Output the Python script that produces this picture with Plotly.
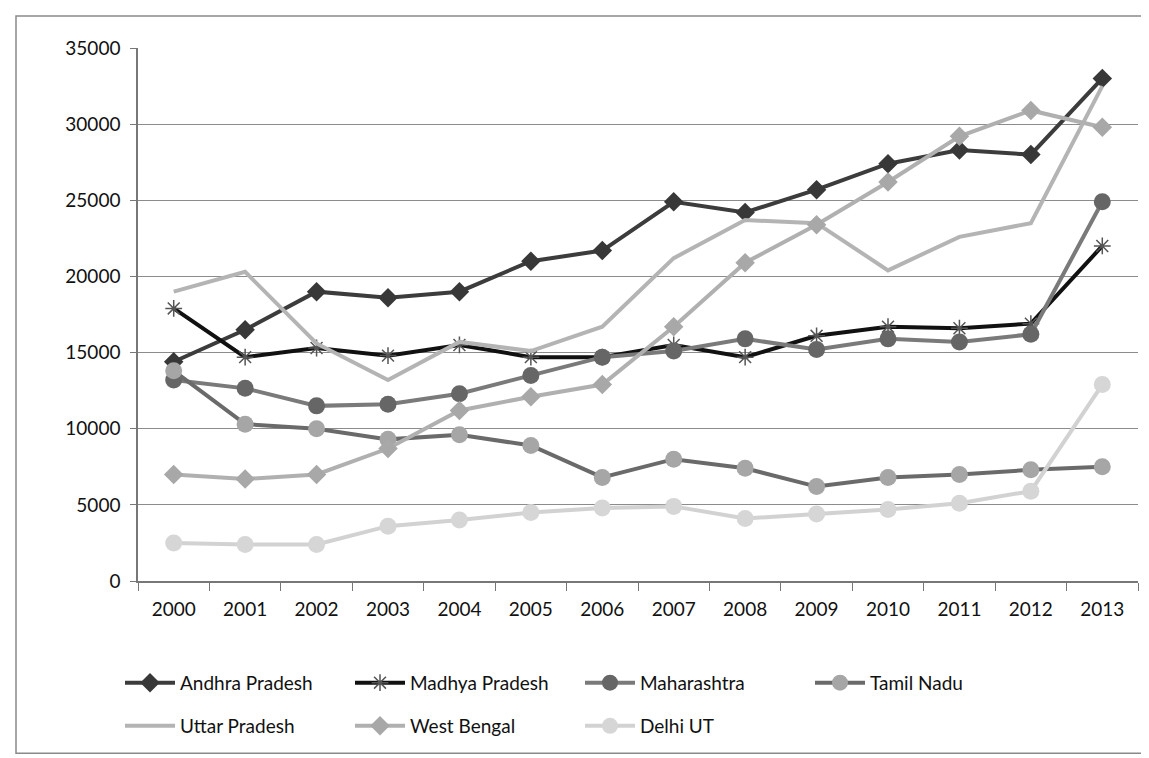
import plotly.graph_objects as go

years = [str(y) for y in range(2000, 2014)]

andhra_pradesh = [14400, 16500, 19000, 18600, 19000, 21000, 21700, 24900, 24200, 25700, 27400, 28300, 28000, 33000]
madhya_pradesh = [17900, 14700, 15300, 14800, 15500, 14700, 14700, 15500, 14700, 16100, 16700, 16600, 16900, 22000]
maharashtra = [13200, 12650, 11500, 11600, 12300, 13500, 14700, 15100, 15900, 15200, 15900, 15700, 16200, 24900]
tamil_nadu = [13800, 10300, 10000, 9300, 9600, 8900, 6800, 8000, 7400, 6200, 6800, 7000, 7300, 7500]
uttar_pradesh = [19000, 20300, 15600, 13200, 15700, 15100, 16700, 21200, 23700, 23500, 20400, 22600, 23500, 32500]
west_bengal = [7000, 6700, 7000, 8700, 11200, 12100, 12900, 16700, 20900, 23400, 26200, 29200, 30900, 29800]
delhi_ut = [2500, 2400, 2400, 3600, 4000, 4500, 4800, 4900, 4100, 4400, 4700, 5100, 5900, 12900]

# (name, values, line colour, marker symbol, marker colour, marker size, legend row)
series = [
    ("Andhra Pradesh", andhra_pradesh, "#3c3c3c", "diamond", "#383838", 15, "legend"),
    ("Madhya Pradesh", madhya_pradesh, "#111111", "asterisk-open", "#555555", 14, "legend"),
    ("Maharashtra", maharashtra, "#7a7a7a", "circle", "#666666", 17, "legend"),
    ("Tamil Nadu", tamil_nadu, "#6a6a6a", "circle", "#a6a6a6", 17, "legend"),
    ("Uttar Pradesh", uttar_pradesh, "#b4b4b4", None, None, 0, "legend2"),
    ("West Bengal", west_bengal, "#b0b0b0", "diamond", "#a8a8a8", 15, "legend2"),
    ("Delhi UT", delhi_ut, "#d2d2d2", "circle", "#d6d6d6", 17, "legend2"),
]

fig = go.Figure()
for name, vals, lc, sym, mc, ms, leg in series:
    if sym is None:
        fig.add_trace(go.Scatter(x=years, y=vals, name=name, mode="lines", legend=leg,
                                 line=dict(color=lc, width=4)))
    else:
        marker = dict(symbol=sym, size=ms, color=mc)
        if sym == "asterisk-open":
            marker["line"] = dict(color=mc, width=1.5)
        fig.add_trace(go.Scatter(x=years, y=vals, name=name, mode="lines+markers",
                                 legend=leg, line=dict(color=lc, width=4), marker=marker))

legend_style = dict(orientation="h", x=-0.018, xanchor="left", yanchor="middle",
                    entrywidth=165, itemwidth=50, font=dict(size=19),
                    bgcolor="rgba(0,0,0,0)")

fig.update_layout(
    width=1149, height=758,
    margin=dict(l=130, r=19, t=40, b=185),
    paper_bgcolor="white", plot_bgcolor="white",
    font=dict(family="Lato, 'Open Sans', sans-serif", size=19, color="#111111"),
    showlegend=True,
    legend=dict(legend_style, y=-0.191),
    legend2=dict(legend_style, y=-0.272),
    shapes=[dict(type="rect", xref="paper", yref="paper",
                 x0=-0.122, x1=1.01, y0=-0.323, y1=1.06,
                 line=dict(color="#8a8a8a", width=1.5))],
)
fig.update_xaxes(type="category", range=[-0.5, 13.5], showgrid=False,
                 showline=True, linecolor="#777777", linewidth=1.5,
                 ticks="outside", tickson="boundaries", ticklen=8,
                 tickcolor="#777777", ticklabelstandoff=10)
fig.update_yaxes(range=[0, 35000], dtick=5000, tickformat="d", showgrid=True,
                 gridcolor="#8c8c8c", gridwidth=1.2,
                 showline=True, linecolor="#777777", linewidth=1.5,
                 ticks="outside", ticklen=6, tickcolor="#777777",
                 zeroline=False, ticklabelstandoff=6)

fig.write_html("out.html")
